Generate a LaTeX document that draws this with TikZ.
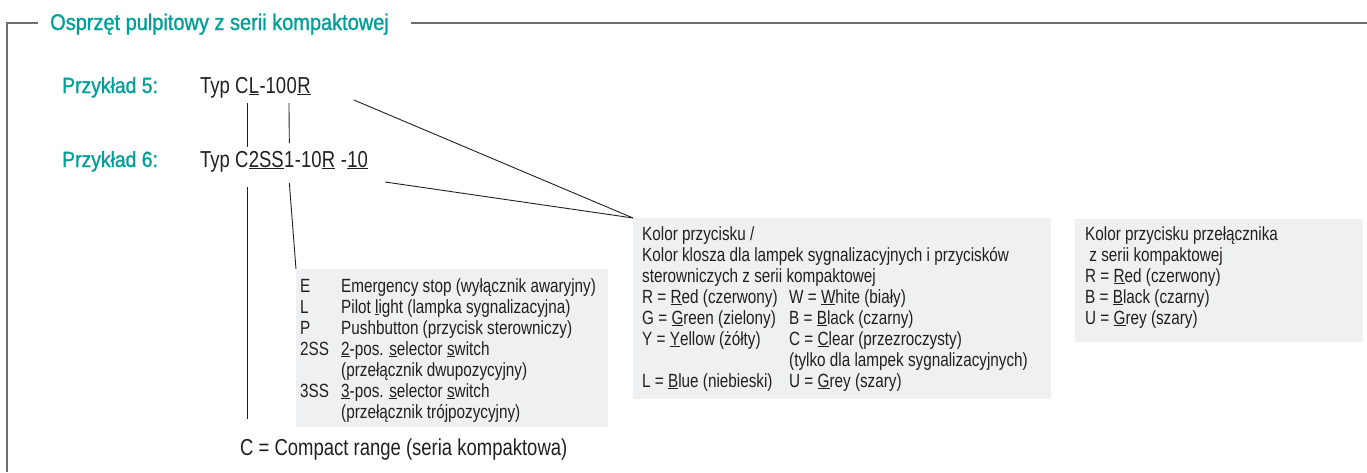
\documentclass[tikz,border=0pt]{standalone}
\usepackage{fontspec}
\setmainfont{Liberation Sans}
\newfontfamily\inkfont[FakeStretch=0.8]{Liberation Sans}
\newfontfamily\tealfont[FakeStretch=0.88,FakeBold=1.2]{Liberation Sans}
\usetikzlibrary{positioning,calc}
\definecolor{kTeal}{HTML}{00A09A}
\definecolor{kInk}{HTML}{231F20}
\definecolor{kBox}{HTML}{EFF0F1}
\definecolor{kFrame}{HTML}{6D6E70}
\newcommand\uln[1]{\setbox0\hbox{#1}\rlap{\rule[-1.8pt]{\wd0}{0.8pt}}\box0}
\newcommand\kcol[1]{\makebox[41pt][l]{#1}}
\newcommand\ccol[1]{\makebox[147pt][l]{#1}}

\begin{document}
\begin{tikzpicture}[x=1pt,y=1pt,
  ttl/.style={font=\tealfont\fontsize{22.7}{26}\selectfont,text=kTeal,inner sep=0pt,anchor=base west},
  ex/.style={font=\tealfont\fontsize{22}{26}\selectfont,text=kTeal,inner sep=0pt,anchor=base west},
  typ/.style={font=\inkfont\fontsize{23.1}{27}\selectfont,text=kInk,inner sep=0pt,anchor=base west},
  lst/.style={font=\inkfont\fontsize{19.1}{21}\selectfont,text=kInk,inner sep=0pt,align=left,anchor=north west},
  gbox/.style={fill=kBox,draw=none,inner sep=0pt,anchor=north west},
  lead/.style={draw=kInk,line width=0.9pt},
  frm/.style={draw=kFrame,line width=1.4pt},
]
\useasboundingbox (0,0) rectangle (1367,-472);

% heading and frame
\node[ttl] (title) at (50,-30) {Osprzęt pulpitowy z serii kompaktowej};
\coordinate (fc) at (7,-23);
\draw[frm] ($(title.west |- fc)+(-12,0)$) -- (fc) -- (7,-472);
\draw[frm] ($(title.east |- fc)+(22,0)$) -- (1367,-23);

% gray boxes
\node[gbox,minimum width=312,minimum height=158] (ebox) at (296,-269) {};
\node[gbox,minimum width=418,minimum height=181] (cbox) at (633,-218) {};
\node[gbox,minimum width=288,minimum height=123] (sbox) at (1075,-219) {};

% examples
\node[ex] (ex5) at (62,-93) {Przykład 5:};
\node[ex] (ex6) at (62,-167) {Przykład 6:};

\node[typ] (t1a) at (200,-93) {Typ C};
\node[typ] (t1L) at (t1a.base east) {\uln{L}};
\node[typ] (t1b) at (t1L.base east) {-10};
\node[typ] (t1O) at (t1b.base east) {0};
\node[typ] (t1R) at (t1O.base east) {\uln{R}};

\node[typ] (t2a) at (200,-167) {Typ C};
\node[typ] (t2SS) at (t2a.base east) {\uln{2SS}};
\node[typ] (t2one) at (t2SS.base east) {1};
\node[typ] (t2b) at (t2one.base east) {-10};
\node[typ] (t2R) at (t2b.base east) {\uln{R}};
\node[typ] (t2c) at (t2R.base east) {\ -};
\node[typ] (t2ten) at (t2c.base east) {\uln{10}};

\node[typ] (compact) at (240,-455) {C = Compact range (seria kompaktowa)};

% key lists
\node[lst] (elist) at ($(ebox.north west)+(4,-8.3)$) {%
  \strut\kcol{E}Emergency stop (wyłącznik awaryjny)\\
  \strut\kcol{L}Pilot \uln{l}ight (lampka sygnalizacyjna)\\
  \strut\kcol{P}Pushbutton (przycisk sterowniczy)\\
  \strut\kcol{2SS}\uln{2}-pos. \uln{s}elector \uln{s}witch\\
  \strut\kcol{}(przełącznik dwupozycyjny)\\
  \strut\kcol{3SS}\uln{3}-pos. \uln{s}elector \uln{s}witch\\
  \strut\kcol{}(przełącznik trójpozycyjny)};
\node[lst] (clist) at ($(cbox.north west)+(9,-7.3)$) {%
  \strut Kolor przycisku /\\
  \strut Kolor klosza dla lampek sygnalizacyjnych i przycisków\\
  \strut sterowniczych z serii kompaktowej\\
  \strut\ccol{R = \uln{R}ed (czerwony)}W = \uln{W}hite (biały)\\
  \strut\ccol{G = \uln{G}reen (zielony)}B = \uln{B}lack (czarny)\\
  \strut\ccol{Y = \uln{Y}ellow (żółty)}C = \uln{C}lear (przezroczysty)\\
  \strut\ccol{}(tylko dla lampek sygnalizacyjnych)\\
  \strut\ccol{L = \uln{B}lue (niebieski)}U = \uln{G}rey (szary)};
\node[lst] (slist) at ($(sbox.north west)+(10,-6.3)$) {%
  \strut Kolor przycisku przełącznika\\
  \strut\ z serii kompaktowej\\
  \strut R = \uln{R}ed (czerwony)\\
  \strut B = \uln{B}lack (czarny)\\
  \strut U = \uln{G}rey (szary)};

% leader lines
\coordinate (cl) at ($(t2SS.base west)+(-1.5,-20)$);
\draw[lead] ($(t1L.base west)+(-1.5,-10)$) -- ($(t2SS.base west)+(-1.5,20)$);
\draw[lead] ($(t1O.base west)+(2.5,-10)$) -- ($(t2one.base)+(0,24)$);
\draw[lead,shorten >=19pt] (cl) -- (cl |- compact.north);
\draw[lead] ($(t2one.base)+(0,-16)$) -- (ebox.north west);
\draw[lead] ($(t1R.base east)+(43,-7)$) -- (cbox.north west);
\draw[lead] ($(t2ten.base east)+(17,-15)$) -- (cbox.north west);
\end{tikzpicture}
\end{document}
